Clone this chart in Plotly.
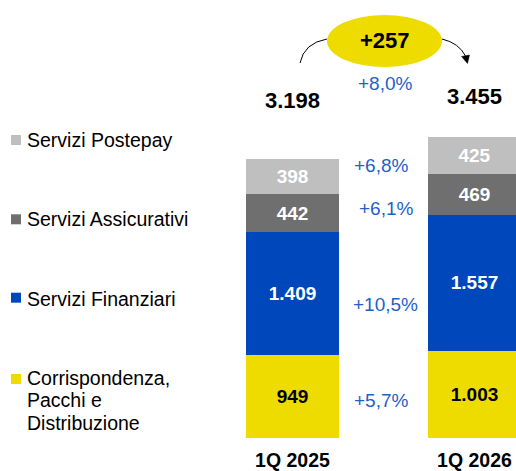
import plotly.graph_objects as go

# ---------------- data ----------------
categories = ["1Q 2025", "1Q 2026"]
series_names = ["Corrispondenza, Pacchi e Distribuzione", "Servizi Finanziari",
                "Servizi Assicurativi", "Servizi Postepay"]
corrispondenza = [949, 1003]
finanziari = [1409, 1557]
assicurativi = [442, 469]
postepay = [398, 425]
totals = [3198, 3455]
legend_labels = [["Servizi Postepay"], ["Servizi Assicurativi"], ["Servizi Finanziari"],
                 ["Corrispondenza,", "Pacchi e", "Distribuzione"]]

colors = ["#EEDC00", "#0047BB", "#6F6F6F", "#BFBFBF"]
text_colors = ["#000000", "#FFFFFF", "#FFFFFF", "#FFFFFF"]
BLUE_TXT = "#1F5FC8"
FONT = "Liberation Sans, Arial, sans-serif"

W, H = 516, 471
BOTTOM = 438  # reference pixel of y=0
PX_PER_UNIT = 279 / 3198


def px(x, y):
    return x / W, 1 - y / H


def it_num(v):
    return f"{v:,}".replace(",", ".")


def it_pct(a, b):
    return "+" + f"{(b / a - 1) * 100:.1f}".replace(".", ",") + "%"


series = [corrispondenza, finanziari, assicurativi, postepay]

fig = go.Figure()
for name, vals, col, tcol in zip(series_names, series, colors, text_colors):
    fig.add_trace(go.Bar(
        x=categories, y=vals, name=name, marker=dict(color=col, line=dict(width=0)),
        width=0.511, texttemplate="%{y:,}", textposition="inside",
        insidetextanchor="middle", textangle=0,
        insidetextfont=dict(family=FONT, size=19, color=tcol, weight="bold"),
        showlegend=False, hoverinfo="skip"))

annotations = []
shapes = []

# totals
for cat, tot, (x, y) in zip(categories, totals, [(290, 101), (475, 97)]):
    annotations.append(dict(text=it_num(tot), x=cat, xref="x", y=px(0, y)[1], yref="paper",
                            showarrow=False, xanchor="center", yanchor="middle",
                            font=dict(family=FONT, size=22, color="#000", weight="bold")))

# percent labels between bars
pct_pos = [(381, 400.5), (385.5, 304.5), (386, 208), (381, 165.5)]
for s, (x, y) in zip(series, pct_pos):
    X, Y = px(x, y)
    annotations.append(dict(text=it_pct(s[0], s[1]), x=X, y=Y, xref="paper", yref="paper",
                            showarrow=False, xanchor="center", yanchor="middle",
                            font=dict(family=FONT, size=19, color=BLUE_TXT)))
X, Y = px(385.5, 83.5)
annotations.append(dict(text=it_pct(totals[0], totals[1]), x=X, y=Y, xref="paper", yref="paper",
                        showarrow=False, xanchor="center", yanchor="middle",
                        font=dict(family=FONT, size=19, color=BLUE_TXT)))

# ellipse with delta
x0, y0 = px(327, 15)
x1, y1 = px(442, 67)
shapes.append(dict(type="circle", xref="paper", yref="paper", x0=x0, y0=y1, x1=x1, y1=y0,
                   fillcolor="#EEDC00", line=dict(width=0)))
X, Y = px(384.5, 40.5)
annotations.append(dict(text="+" + it_num(totals[1] - totals[0]), x=X, y=Y, xref="paper",
                        yref="paper", showarrow=False, xanchor="center", yanchor="middle",
                        font=dict(family=FONT, size=22, color="#000", weight="bold")))


def path_px(cmds):
    out = []
    for c in cmds:
        if isinstance(c, str):
            out.append(c)
        else:
            X, Y = px(*c)
            out.append(f"{X:.5f},{Y:.5f}")
    return " ".join(out)


shapes.append(dict(type="path", xref="paper", yref="paper",
                   path=path_px(["M", (300, 63), "Q", (304, 43), (327, 39)]),
                   line=dict(color="#000", width=1)))
shapes.append(dict(type="path", xref="paper", yref="paper",
                   path=path_px(["M", (442, 39), "Q", (459, 43), (465.5, 56)]),
                   line=dict(color="#000", width=1)))
shapes.append(dict(type="path", xref="paper", yref="paper",
                   path=path_px(["M", (461.5, 56.5), "L", (469.5, 55), "L", (467.5, 63.5), "Z"]),
                   fillcolor="#000", line=dict(color="#000", width=0.5)))

# legend (manual)
sq = [(11, 135), (11, 214.3), (11, 292.7), (11, 374)]
text_y = [[139.7], [219], [299], [378.3, 400, 422.5]]
leg_cols = list(reversed(colors))
for (sx, sy), col, lines, ys in zip(sq, leg_cols, legend_labels, text_y):
    a0, b0 = px(sx, sy)
    a1, b1 = px(sx + 10, sy + 10)
    shapes.append(dict(type="rect", xref="paper", yref="paper", x0=a0, x1=a1, y0=b1, y1=b0,
                       fillcolor=col, line=dict(width=0)))
    for ln, yy in zip(lines, ys):
        X, Y = px(25, yy)
        annotations.append(dict(text=ln, x=X, y=Y, xref="paper", yref="paper", showarrow=False,
                                xanchor="left", yanchor="middle",
                                font=dict(family=FONT, size=19.5, color="#000")))

bar1_center = 292.5
unit_px = 182
xmin = -bar1_center / unit_px
xmax = xmin + W / unit_px

fig.update_layout(
    width=W, height=H, margin=dict(l=0, r=0, t=0, b=0),
    barmode="stack", separators=",.", plot_bgcolor="white", paper_bgcolor="white",
    showlegend=False, annotations=annotations, shapes=shapes,
    xaxis=dict(domain=[0, 1], range=[xmin, xmax], showgrid=False, zeroline=False,
               showline=False, ticks="outside", ticklen=5, tickcolor="rgba(0,0,0,0)",
               tickfont=dict(family=FONT, size=19.5, color="#000", weight="bold")),
    yaxis=dict(domain=[1 - BOTTOM / H, 1], range=[0, BOTTOM / PX_PER_UNIT], showgrid=False,
               zeroline=False, showline=False, showticklabels=False, ticks=""),
)

fig.write_html("out.html", config={"displayModeBar": False},
               post_script="document.body.style.margin='0px';")
